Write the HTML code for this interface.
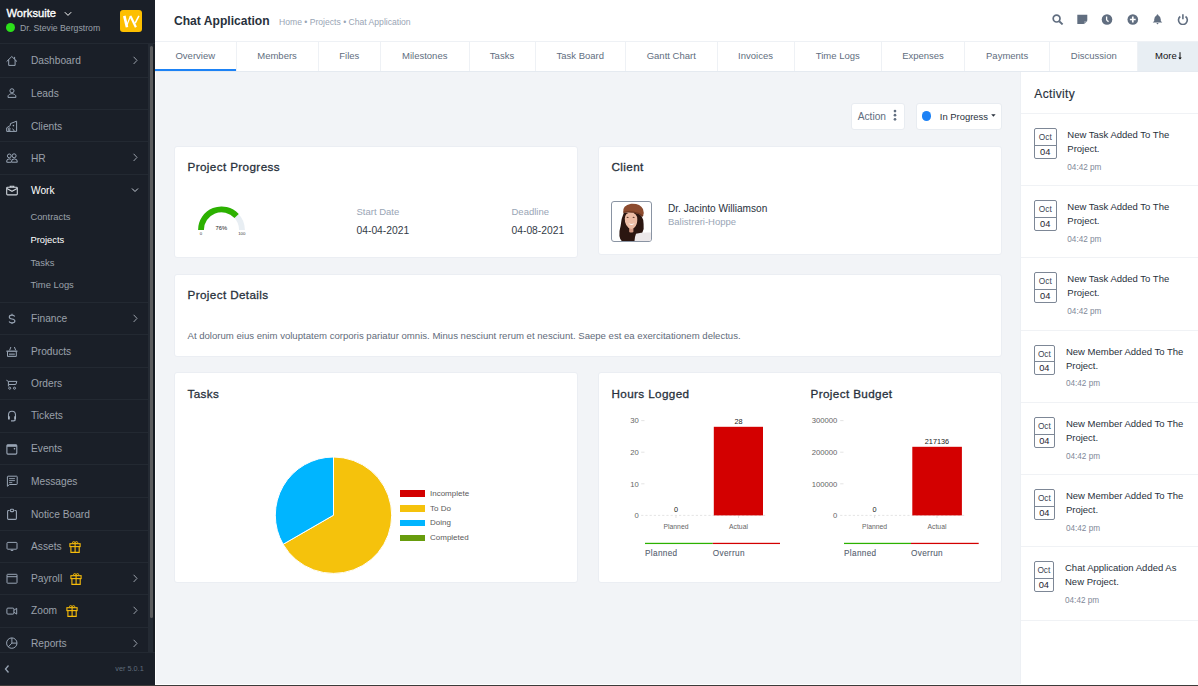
<!DOCTYPE html>
<html><head><meta charset="utf-8">
<style>
*{box-sizing:border-box;margin:0;padding:0}
html,body{width:1198px;height:686px;overflow:hidden;background:#f2f4f7;font-family:"Liberation Sans",sans-serif;position:relative}
#sb{position:absolute;left:0;top:0;width:155px;height:686px;background:#1a1f28}
#sb .hd{position:absolute;left:0;top:0;width:155px;height:44px;border-bottom:1px solid #232932}
.brand{position:absolute;left:6.5px;top:7.4px;font-size:11.2px;font-weight:normal;-webkit-text-stroke:0.35px #fff;color:#fff;white-space:nowrap}
.user{position:absolute;left:20px;top:23.3px;font-size:8.7px;color:#9aa1ab;white-space:nowrap}
.dot{position:absolute;left:6px;top:23px;width:9px;height:9px;border-radius:50%;background:#2ce01a}
.logo{position:absolute;left:120.2px;top:10.2px;width:21.6px;height:21.6px;border-radius:3px;background:#fdbf00}
.mi{position:absolute;left:0;width:147.5px;border-bottom:1px solid #232932;color:#9aa1ab;font-size:10.2px}
.mi .t{position:absolute;left:31px;top:16px;transform:translateY(-50%);white-space:nowrap}
.mi svg.ic{position:absolute;left:6px;top:10px;overflow:visible}
.mi .chev{position:absolute;left:131px;top:11.8px}
.sub{position:absolute;left:30.4px;font-size:9.4px;color:#9aa1ab;white-space:nowrap}
#track{position:absolute;left:147.5px;top:44px;width:7.5px;height:608px;background:#242a33;border-right:2px solid #171c23}
#scroll{position:absolute;left:150px;top:46px;width:3px;height:572px;background:#5b5c5e;border-radius:1.5px}
#foot{position:absolute;left:0;top:652px;width:155px;height:32px;background:#1a1f28;border-top:1px solid #232932}
#top{position:absolute;left:155px;top:0;width:1043px;height:41px;background:#fff}
.ttl{position:absolute;left:174px;top:14px;font-size:12.1px;font-weight:bold;color:#28313c;white-space:nowrap}
.bc{position:absolute;left:279px;top:17px;font-size:8.6px;color:#99a5b5;white-space:nowrap}
#tabs{position:absolute;left:155px;top:41px;width:1043px;height:31px;background:#fff;border-top:1px solid #eef1f5;border-bottom:1px solid #e5eaf0}
.tab{position:absolute;top:0;height:29px;line-height:28px;text-align:center;font-size:9.5px;color:#616e80;border-right:1px solid #eef1f5;white-space:nowrap}
.card{position:absolute;background:#fff;border-radius:3px;border:1px solid #ebeef3}
.ch{position:absolute;margin-top:1px;font-size:11.7px;letter-spacing:0.38px;font-weight:normal;-webkit-text-stroke:0.3px #28313c;color:#28313c;white-space:nowrap}
#act{position:absolute;left:1020px;top:72px;width:178px;height:612px;background:#fff;border-left:1px solid #edf0f4}
.ai{position:absolute;left:0;width:178px;height:72.5px;border-top:1px solid #f0f2f5}
.db{position:absolute;left:13px;top:14.3px;width:22.5px;height:30.5px;border:1px solid #7d8796;border-radius:2px;text-align:center;color:#28313c}
.db .m{height:16.5px;font-size:8.3px;line-height:17px;color:#3d4653;border-bottom:1px solid #7d8796}
.db .d{font-size:9.3px;line-height:13px;font-weight:normal;color:#1f2630}
.at{position:absolute;left:46.5px;top:14.3px;font-size:9.5px;color:#28313c;line-height:14px;width:130px}
.tm{position:absolute;left:46.5px;top:48.8px;font-size:8.2px;color:#7f8999}
.lbl{position:absolute;white-space:nowrap}
#bline{position:absolute;left:0;top:685px;width:1198px;height:1px;background:#3d3b3a}
#wl{position:absolute;left:155px;top:72px;width:1px;height:614px;background:#fff}
#wb{position:absolute;left:155px;top:684px;width:1043px;height:1px;background:#fff}
</style></head><body>

<div id="sb">
  <div class="hd"></div>
  <div class="brand">Worksuite</div>
  <svg style="position:absolute;left:64.3px;top:11.3px" width="8" height="6" viewBox="0 0 8 6"><path d="M0.8 1.2 L4 4.4 L7.2 1.2" stroke="#fff" fill="none" stroke-width="1"/></svg>
  <div class="dot"></div>
  <div class="user">Dr. Stevie Bergstrom</div>
  <div class="logo"><svg width="22" height="22" viewBox="0 0 22 22"><g stroke="#fff" fill="none" stroke-linecap="butt"><path d="M4.3 5.9 L7 17.3" stroke-width="2.6"/><path d="M6.6 15.8 L10.6 5.9" stroke-width="1.2"/><path d="M10.4 5.9 L15.9 17.3" stroke-width="2.2"/><path d="M15.2 13.2 L18.9 5.9" stroke-width="1.5"/></g></svg></div>
<div class="mi" style="top:44px;height:33.8px;color:#9aa1ab"><svg class="ic" width="12" height="12" viewBox="0 0 12 12"><path d="M0.6 7.6 L5.8 2.5 L11 7.6 M2.7 5.6 V11.4 H9.1 V5.6 M8.6 2.9 V5" stroke="#99a5b5" fill="none" stroke-width="1"/></svg><span class="t">Dashboard</span><svg class="chev" width="8" height="9" viewBox="0 0 8 9"><path d="M2.6 0.8 L6 4.4 L2.6 8" stroke="#9aa1ab" fill="none" stroke-width="1"/></svg></div>
<div class="mi" style="top:77.3px;height:32.7px;color:#9aa1ab"><svg class="ic" width="12" height="12" viewBox="0 0 12 12"><circle cx="5.95" cy="3.8" r="2.05" stroke="#99a5b5" fill="none" stroke-width="1"/><path d="M2 10.4 Q1.6 8.4 3.4 7.4 Q4.6 6.7 5.95 6.7 Q7.3 6.7 8.5 7.4 Q10.3 8.4 9.9 10.4 Z" stroke="#99a5b5" fill="none" stroke-width="1"/></svg><span class="t">Leads</span></div>
<div class="mi" style="top:109.5px;height:32.5px;color:#9aa1ab"><svg class="ic" width="12" height="12" viewBox="0 0 12 12"><path d="M0.7 11.4 V7.8 L4.4 5.4 V3.6 L10.6 1.2 V11.4 Z" stroke="#99a5b5" fill="none" stroke-width="1"/><circle cx="3.2" cy="8.9" r="1" stroke="#99a5b5" fill="none" stroke-width="1"/><path d="M1.7 11.2 Q3.2 9.9 4.7 11.2 M6.6 8.6 L8.4 11.2" stroke="#99a5b5" fill="none" stroke-width="1"/><circle cx="7.4" cy="5.6" r="0.8" fill="#99a5b5"/></svg><span class="t">Clients</span></div>
<div class="mi" style="top:141.5px;height:33.0px;color:#9aa1ab"><svg class="ic" width="12" height="12" viewBox="0 0 12 12"><g transform="translate(0,-0.8)"><circle cx="3.3" cy="4.7" r="1.9" stroke="#99a5b5" fill="none" stroke-width="1"/><circle cx="8.1" cy="4.6" r="2" stroke="#99a5b5" fill="none" stroke-width="1"/><path d="M5.2 11 Q3.2 11.3 0.7 11 Q0.2 7.9 3 7.7 Q4.3 7.7 5.1 8.4" stroke="#99a5b5" fill="none" stroke-width="1"/><path d="M5.5 11 Q5.1 7.7 8.4 7.7 Q11.7 7.7 11.3 11 Z" stroke="#99a5b5" fill="none" stroke-width="1"/></g></svg><span class="t">HR</span><svg class="chev" width="8" height="9" viewBox="0 0 8 9"><path d="M2.6 0.8 L6 4.4 L2.6 8" stroke="#9aa1ab" fill="none" stroke-width="1"/></svg></div>
<div class="mi" style="top:174px;height:128.5px;color:#fff"><svg class="ic" width="12" height="12" viewBox="0 0 12 12"><rect x="0.7" y="3.2" width="10.6" height="7.7" rx="0.9" stroke="#d0d5dc" fill="none" stroke-width="1.1"/><path d="M4.2 3.2 V2.2 H7.8 V3.2 M0.9 4.4 L6 7.3 L11.1 4.4" stroke="#d0d5dc" fill="none" stroke-width="1.1"/></svg><span class="t">Work</span><svg class="chev" width="8" height="8" viewBox="0 0 8 8"><path d="M1 2.5 L4 5.5 L7 2.5" stroke="#c8ced8" fill="none" stroke-width="1"/></svg></div>
<div class="mi" style="top:302px;height:33.0px;color:#9aa1ab"><svg class="ic" width="12" height="12" viewBox="0 0 12 12"><path d="M8.7 4.4 Q8.1 3.1 6 3.1 Q3.3 3.1 3.3 5 Q3.3 6.6 6 7 Q8.9 7.4 8.9 9.1 Q8.9 10.9 6 10.9 Q3.7 10.9 3.1 9.6 M6 1.8 V3.1 M6 10.9 V12.1" stroke="#99a5b5" fill="none" stroke-width="1.15"/></svg><span class="t">Finance</span><svg class="chev" width="8" height="9" viewBox="0 0 8 9"><path d="M2.6 0.8 L6 4.4 L2.6 8" stroke="#9aa1ab" fill="none" stroke-width="1"/></svg></div>
<div class="mi" style="top:334.5px;height:33.10000000000002px;color:#9aa1ab"><svg class="ic" width="12" height="12" viewBox="0 0 12 12"><path d="M0.4 6.2 H11.4" stroke="#99a5b5" stroke-width="1.3"/><path d="M1.5 6.6 V11.4 H10.3 V6.6 M3.6 5.3 L4.9 2 M8.4 2 L9.7 5.3" stroke="#99a5b5" fill="none" stroke-width="1"/><rect x="3" y="8.4" width="5.8" height="1.8" fill="#6f7a89"/></svg><span class="t">Products</span></div>
<div class="mi" style="top:367.1px;height:32.69999999999999px;color:#9aa1ab"><svg class="ic" width="12" height="12" viewBox="0 0 12 12"><path d="M0.4 3.2 L2.4 4.4 V9.4 M2.4 4.4 H10.9 L9.8 7.5 H2.6" stroke="#99a5b5" fill="none" stroke-width="1"/><circle cx="3.7" cy="11.2" r="1.05" stroke="#99a5b5" fill="none" stroke-width="1"/><circle cx="8.5" cy="11.2" r="1.05" stroke="#99a5b5" fill="none" stroke-width="1"/></svg><span class="t">Orders</span></div>
<div class="mi" style="top:399.3px;height:33.39999999999998px;color:#9aa1ab"><svg class="ic" width="12" height="12" viewBox="0 0 12 12"><path d="M2.5 8.5 V6 Q2.5 2.2 6 2.2 Q9.5 2.2 9.5 6 V8.5" stroke="#99a5b5" fill="none" stroke-width="1.1"/><rect x="2" y="7.2" width="1.8" height="3.4" rx="0.4" fill="#a9b4c2"/><rect x="8.2" y="7.2" width="1.8" height="3.4" rx="0.4" fill="#a9b4c2"/><path d="M9.3 10.4 Q9.2 11.7 7.6 11.8 H5" stroke="#99a5b5" fill="none" stroke-width="1.3"/></svg><span class="t">Tickets</span></div>
<div class="mi" style="top:432.2px;height:33.19999999999999px;color:#9aa1ab"><svg class="ic" width="12" height="12" viewBox="0 0 12 12"><rect x="0.9" y="2.7" width="9.9" height="9.4" rx="1" stroke="#99a5b5" fill="none" stroke-width="1.1"/><rect x="0.9" y="2.7" width="9.9" height="2.1" fill="#99a5b5"/><circle cx="8.5" cy="6.8" r="0.8" fill="#b0bac6"/></svg><span class="t">Events</span></div>
<div class="mi" style="top:464.9px;height:33.60000000000002px;color:#9aa1ab"><svg class="ic" width="12" height="12" viewBox="0 0 12 12"><path d="M1.4 1.8 Q1.4 1.2 2 1.2 H10.6 Q11.2 1.2 11.2 1.8 V8.9 Q11.2 9.5 10.6 9.5 H3.4 L1.4 11.3 Z" stroke="#99a5b5" fill="none" stroke-width="1"/><path d="M3.1 3.6 H8.9 M3.1 5.6 H8.9 M3.1 7.6 H6.3" stroke="#99a5b5" stroke-width="0.9"/></svg><span class="t">Messages</span></div>
<div class="mi" style="top:498px;height:32.89999999999998px;color:#9aa1ab"><svg class="ic" width="12" height="12" viewBox="0 0 12 12"><path d="M3.5 2.5 H2.5 Q1.6 2.5 1.6 3.4 V10.5 Q1.6 11.4 2.5 11.4 H9.5 Q10.4 11.4 10.4 10.5 V3.4 Q10.4 2.5 9.5 2.5 H8.5" stroke="#99a5b5" fill="none" stroke-width="1.1"/><rect x="4.3" y="1.2" width="3.4" height="2.4" rx="1" stroke="#99a5b5" fill="none" stroke-width="1.1"/></svg><span class="t">Notice Board</span></div>
<div class="mi" style="top:530.4px;height:32.39999999999998px;color:#9aa1ab"><svg class="ic" width="12" height="12" viewBox="0 0 12 12"><rect x="1" y="2.4" width="10" height="6.8" rx="0.8" stroke="#99a5b5" fill="none" stroke-width="1"/><path d="M4.2 11 H7.8 L6 9.5 Z" fill="#99a5b5"/></svg><span class="t">Assets</span><svg style="position:absolute;left:68.5px;top:11px" width="12" height="12" viewBox="0 0 12 12"><rect x="0.9" y="2.7" width="10.2" height="2.9" stroke="#f7bd0b" fill="none" stroke-width="1.1"/><path d="M1.9 5.6 V11.4 H10.2 V5.6 M6.1 2.7 V11.4" stroke="#f7bd0b" fill="none" stroke-width="1.1"/><ellipse cx="4.7" cy="1.5" rx="1.2" ry="0.9" stroke="#f7bd0b" fill="none" stroke-width="0.9"/><ellipse cx="7.5" cy="1.5" rx="1.2" ry="0.9" stroke="#f7bd0b" fill="none" stroke-width="0.9"/></svg></div>
<div class="mi" style="top:562.3px;height:32.5px;color:#9aa1ab"><svg class="ic" width="12" height="12" viewBox="0 0 12 12"><rect x="1" y="2.3" width="10" height="8.9" rx="0.6" stroke="#99a5b5" fill="none" stroke-width="1"/><path d="M1 4.7 H11" stroke="#99a5b5" fill="none" stroke-width="1"/></svg><span class="t">Payroll</span><svg class="chev" width="8" height="9" viewBox="0 0 8 9"><path d="M2.6 0.8 L6 4.4 L2.6 8" stroke="#9aa1ab" fill="none" stroke-width="1"/></svg><svg style="position:absolute;left:69.5px;top:11px" width="12" height="12" viewBox="0 0 12 12"><rect x="0.9" y="2.7" width="10.2" height="2.9" stroke="#f7bd0b" fill="none" stroke-width="1.1"/><path d="M1.9 5.6 V11.4 H10.2 V5.6 M6.1 2.7 V11.4" stroke="#f7bd0b" fill="none" stroke-width="1.1"/><ellipse cx="4.7" cy="1.5" rx="1.2" ry="0.9" stroke="#f7bd0b" fill="none" stroke-width="0.9"/><ellipse cx="7.5" cy="1.5" rx="1.2" ry="0.9" stroke="#f7bd0b" fill="none" stroke-width="0.9"/></svg></div>
<div class="mi" style="top:594.3px;height:33.60000000000002px;color:#9aa1ab"><svg class="ic" width="12" height="12" viewBox="0 0 12 12"><rect x="0.9" y="4.1" width="7" height="6" rx="1" stroke="#99a5b5" fill="none" stroke-width="1"/><path d="M7.9 6.3 L10.7 4.3 V10.1 L7.9 8.2" stroke="#99a5b5" fill="none" stroke-width="1"/></svg><span class="t">Zoom</span><svg class="chev" width="8" height="9" viewBox="0 0 8 9"><path d="M2.6 0.8 L6 4.4 L2.6 8" stroke="#9aa1ab" fill="none" stroke-width="1"/></svg><svg style="position:absolute;left:65.5px;top:11px" width="12" height="12" viewBox="0 0 12 12"><rect x="0.9" y="2.7" width="10.2" height="2.9" stroke="#f7bd0b" fill="none" stroke-width="1.1"/><path d="M1.9 5.6 V11.4 H10.2 V5.6 M6.1 2.7 V11.4" stroke="#f7bd0b" fill="none" stroke-width="1.1"/><ellipse cx="4.7" cy="1.5" rx="1.2" ry="0.9" stroke="#f7bd0b" fill="none" stroke-width="0.9"/><ellipse cx="7.5" cy="1.5" rx="1.2" ry="0.9" stroke="#f7bd0b" fill="none" stroke-width="0.9"/></svg></div>
<div class="mi" style="top:627.4px;height:32.89999999999998px;color:#9aa1ab"><svg class="ic" width="12" height="12" viewBox="0 0 12 12"><circle cx="5.8" cy="6.1" r="5.2" stroke="#99a5b5" fill="none" stroke-width="1"/><path d="M5.9 0.9 V6.1 H11 M5.9 6.1 L2.3 9.9" stroke="#99a5b5" fill="none" stroke-width="1"/></svg><span class="t">Reports</span><svg class="chev" width="8" height="9" viewBox="0 0 8 9"><path d="M2.6 0.8 L6 4.4 L2.6 8" stroke="#9aa1ab" fill="none" stroke-width="1"/></svg></div>
<div class="sub" style="top:211px;color:#9aa1ab">Contracts</div>
<div class="sub" style="top:234px;color:#fff">Projects</div>
<div class="sub" style="top:256.6px;color:#9aa1ab">Tasks</div>
<div class="sub" style="top:279.3px;color:#9aa1ab">Time Logs</div>

  <div id="track"></div>
  <div id="scroll"></div>
  <div id="foot">
    <svg style="position:absolute;left:3.2px;top:11px" width="8" height="10" viewBox="0 0 8 10"><path d="M5.5 1.5 L2.5 5 L5.5 8.5" stroke="#99a5b5" fill="none" stroke-width="1.3"/></svg>
    <div class="lbl" style="left:115.3px;top:11.2px;font-size:7.3px;color:#5f6b7a">ver 5.0.1</div>
  </div>
</div>

<div id="top"></div>
<div class="ttl">Chat Application</div>
<div class="bc">Home • Projects • Chat Application</div>
<!-- header icons -->
<svg style="position:absolute;left:1051.6px;top:13.8px" width="12" height="11" viewBox="0 0 12 11"><circle cx="4.6" cy="4.6" r="3.4" stroke="#616e80" stroke-width="1.7" fill="none"/><path d="M7.2 7.2 L10.6 10.4" stroke="#616e80" stroke-width="1.9"/></svg>
<svg style="position:absolute;left:1077px;top:14px" width="11" height="11" viewBox="0 0 11 11"><path d="M0.3 0.7 H10.3 V6.4 L6.6 10.1 H0.3 Z" fill="#616e80"/><path d="M7.2 10.2 V7.1 H10.3 Z" fill="#8d97a4"/></svg>
<svg style="position:absolute;left:1101px;top:14px" width="12" height="11" viewBox="0 0 12 11"><circle cx="6" cy="5.5" r="5.3" fill="#616e80"/><path d="M5.6 2.4 V5.6 Q5.8 6.6 7.6 7.6" stroke="#fff" stroke-width="1.3" fill="none"/></svg>
<svg style="position:absolute;left:1127px;top:14px" width="12" height="11" viewBox="0 0 12 11"><circle cx="5.8" cy="5.5" r="5.3" fill="#616e80"/><path d="M5.8 2.6 V8.4 M2.9 5.5 H8.7" stroke="#fff" stroke-width="1.7"/></svg>
<svg style="position:absolute;left:1152px;top:14px" width="11" height="11" viewBox="0 0 11 11"><path d="M5.5 0.2 Q6.3 0.6 6.5 1.5 Q8.6 2.4 8.8 5.5 V7 L10.3 8.6 H0.7 L2.2 7 V5.5 Q2.4 2.4 4.5 1.5 Q4.7 0.6 5.5 0.2 Z M4.3 9 L5.5 10.5 L6.7 9 Z" fill="#616e80"/></svg>
<svg style="position:absolute;left:1177px;top:13.6px" width="12" height="11" viewBox="0 0 12 11"><path d="M3.3 2.5 A4.4 4.4 0 1 0 8.5 2.5" stroke="#616e80" stroke-width="1.6" fill="none"/><path d="M5.9 0.3 V5.3" stroke="#616e80" stroke-width="1.6"/></svg>

<div id="tabs">
<div class="tab" style="left:0px;width:81.5px">Overview</div>
<div class="tab" style="left:81.5px;width:82.10000000000002px">Members</div>
<div class="tab" style="left:163.60000000000002px;width:62.39999999999998px">Files</div>
<div class="tab" style="left:226px;width:88.5px">Milestones</div>
<div class="tab" style="left:314.5px;width:66.0px">Tasks</div>
<div class="tab" style="left:380.5px;width:90.5px">Task Board</div>
<div class="tab" style="left:471px;width:91.5px">Gantt Chart</div>
<div class="tab" style="left:562.5px;width:77.0px">Invoices</div>
<div class="tab" style="left:639.5px;width:87.5px">Time Logs</div>
<div class="tab" style="left:727px;width:83px">Expenses</div>
<div class="tab" style="left:810px;width:85.29999999999995px">Payments</div>
<div class="tab" style="left:895.3px;width:88.0px">Discussion</div>
<div class="tab" style="left:983.3px;width:59.700000000000045px;background:#e8eef3;color:#1d222b;border-right:none"><span style="margin-left:-4.5px;color:#111">More</span><svg style="position:absolute;left:38.6px;top:10.2px" width="6" height="9" viewBox="0 0 6 9"><path d="M3 0.2 V7" stroke="#111" stroke-width="1" fill="none"/><path d="M1.2 5.6 L3 7.6 L4.8 5.6 Z" fill="#111"/></svg></div>
<div style="position:absolute;left:0;top:27px;width:81px;height:2px;background:#1d82f5"></div>
</div>

<!-- Action buttons -->
<div class="card" style="left:851px;top:103.4px;width:54px;height:27px;border:1px solid #e8ecf1;border-radius:3px"></div>
<div class="lbl" style="left:857.7px;top:110.5px;font-size:10.2px;color:#616e80">Action</div>
<svg style="position:absolute;left:892.6px;top:109.4px" width="4" height="13" viewBox="0 0 4 13"><circle cx="2" cy="2.1" r="1.35" fill="#616e80"/><circle cx="2" cy="6.2" r="1.35" fill="#616e80"/><circle cx="2" cy="10.3" r="1.35" fill="#616e80"/></svg>
<div class="card" style="left:916px;top:103.4px;width:85.5px;height:27px;border:1px solid #e8ecf1;border-radius:3px"></div>
<div style="position:absolute;left:922.1px;top:111.2px;width:9.4px;height:9.4px;border-radius:50%;background:#1d82f5"></div>
<div class="lbl" style="left:939.8px;top:111px;font-size:9.45px;color:#28313c">In Progress</div>
<svg style="position:absolute;left:991px;top:114.2px" width="5" height="3" viewBox="0 0 5 3"><path d="M0.2 0.3 H4.6 L2.4 2.7 Z" fill="#28313c"/></svg>

<!-- Project Progress -->
<div class="card" style="left:174px;top:145.8px;width:404.3px;height:112.6px"></div>
<div class="ch" style="left:187.5px;top:159px">Project Progress</div>
<svg style="position:absolute;left:188.7px;top:199.6px" width="65" height="40" viewBox="0 0 65 40">
  <path d="M12 30 A20.5 20.5 0 0 1 53 30" stroke="#e8eef3" stroke-width="5.8" fill="none"/>
  <path d="M12 30 A20.5 20.5 0 0 1 47.6 16" stroke="#2cb100" stroke-width="5.8" fill="none"/>
  <text x="32.3" y="30" font-size="5.8" fill="#222" text-anchor="middle" font-family="Liberation Sans">76%</text>
  <text x="12" y="35" font-size="4.3" fill="#333" text-anchor="middle" font-family="Liberation Sans">0</text>
  <text x="52.8" y="35" font-size="4.3" fill="#333" text-anchor="middle" font-family="Liberation Sans">100</text>
</svg>
<div class="lbl" style="left:356.5px;top:206px;font-size:9.5px;color:#99a5b5">Start Date</div>
<div class="lbl" style="left:356.5px;top:225.2px;font-size:10.3px;color:#333b46">04-04-2021</div>
<div class="lbl" style="left:511.5px;top:206px;font-size:9.5px;color:#99a5b5">Deadline</div>
<div class="lbl" style="left:511.5px;top:225.2px;font-size:10.3px;color:#333b46">04-08-2021</div>

<!-- Client -->
<div class="card" style="left:598px;top:145.8px;width:404.3px;height:109.7px"></div>
<div class="ch" style="left:611.5px;top:159px">Client</div>
<div style="position:absolute;left:611px;top:201px;width:41px;height:40.5px;border:1px solid #8a94a3;border-radius:3px;background:#fff;overflow:hidden">
  <svg width="39" height="38.5" viewBox="0 0 39 38.5" style="position:absolute;left:0;top:0">
    <path d="M11.7 11 Q9 17 8.6 24 Q7 29 7.4 34 Q8 37.5 9.7 39 H25 Q29 36 30 31.5 Q32.5 27 31.6 22 Q31.5 17 29.5 14 Q27 11 24 11 Z" fill="#2b1611"/>
    <path d="M24 31.8 Q30 30 39 30.5 V39 H22.5 Q23 34 24 31.8 Z" fill="#ece8ea"/>
    <path d="M17.2 24 H21.4 V30 Q19.3 31.2 17.2 30 Z" fill="#d49a84"/>
    <path d="M19 10.5 Q25.2 10.8 25.3 17.5 Q25.3 23 22.5 25.5 Q20.5 27.2 18.8 26.8 Q16 26.2 14.2 23 Q12.6 20 12.8 16.5 Q13 10.5 19 10.5 Z" fill="#edbda6"/>
    <path d="M16.3 21.2 Q19.5 24.8 22.8 21.2 Q19.5 22.6 16.3 21.2 Z" fill="#fff"/>
    <ellipse cx="15.6" cy="15.4" rx="1" ry="0.55" fill="#6a4538"/>
    <ellipse cx="21.6" cy="15.4" rx="1" ry="0.55" fill="#6a4538"/>
    <path d="M11.2 10.5 Q10.2 3.5 19 1.8 Q28 1.2 31 7 Q32.5 11 31 14.3 Q27 11.2 21 10.5 Q15 10 11.2 10.5 Z" fill="#8c4b2f"/>
    <path d="M11.4 10.4 Q16 9.4 21.5 10.2 Q27.5 11.2 31 14.2" stroke="#6a3520" stroke-width="1.2" fill="none"/>
  </svg>
</div>
<div class="lbl" style="left:668px;top:203px;font-size:10.1px;color:#28313c">Dr. Jacinto Williamson</div>
<div class="lbl" style="left:668px;top:216px;font-size:9.5px;color:#99a5b5">Balistreri-Hoppe</div>

<!-- Project Details -->
<div class="card" style="left:174px;top:274.2px;width:828.3px;height:83.3px"></div>
<div class="ch" style="left:187.5px;top:287.3px">Project Details</div>
<div class="lbl" style="left:187.5px;top:330.2px;font-size:9.58px;color:#5f6b7a">At dolorum eius enim voluptatem corporis pariatur omnis. Minus nesciunt rerum et nesciunt. Saepe est ea exercitationem delectus.</div>

<!-- Tasks -->
<div class="card" style="left:174px;top:372.4px;width:404.3px;height:210.9px"></div>
<div class="ch" style="left:187.5px;top:386px">Tasks</div>
<svg style="position:absolute;left:270px;top:452px" width="130" height="128" viewBox="0 0 130 128">
  <path d="M63.5 63.2 L63.5 5.00 A58.2 58.2 0 1 1 13.10 92.30 Z" fill="#f5c20c" stroke="#fff" stroke-width="1"/>
  <path d="M63.5 63.2 L13.10 92.30 A58.2 58.2 0 0 1 63.5 5.00 Z" fill="#00b5ff" stroke="#fff" stroke-width="1"/>
</svg>
<div style="position:absolute;left:399.5px;top:490px;width:25.5px;height:6.5px;background:#d30000"></div>
<div style="position:absolute;left:399.5px;top:505px;width:25.5px;height:6.5px;background:#f5c20c"></div>
<div style="position:absolute;left:399.5px;top:519.8px;width:25.5px;height:6.5px;background:#00b5ff"></div>
<div style="position:absolute;left:399.5px;top:534.6px;width:25.5px;height:6.5px;background:#679c0d"></div>
<div class="lbl" style="left:430px;top:488.5px;font-size:8px;color:#5a5a5a">Incomplete</div>
<div class="lbl" style="left:430px;top:503.5px;font-size:8px;color:#5a5a5a">To Do</div>
<div class="lbl" style="left:430px;top:518px;font-size:8px;color:#5a5a5a">Doing</div>
<div class="lbl" style="left:430px;top:533px;font-size:8px;color:#5a5a5a">Completed</div>

<!-- Hours/Budget -->
<div class="card" style="left:598px;top:372.4px;width:404.3px;height:210.9px"></div>
<div class="ch" style="left:611.5px;top:386px">Hours Logged</div>
<div class="ch" style="left:810.5px;top:386px">Project Budget</div>
<svg style="position:absolute;left:598px;top:373px" width="404" height="209" viewBox="0 0 404 209">
  <g font-family="Liberation Sans" font-size="7.7" fill="#666">
    <text x="40.8" y="50.3" text-anchor="end">30</text>
    <text x="40.8" y="81.9" text-anchor="end">20</text>
    <text x="40.8" y="113.5" text-anchor="end">10</text>
    <text x="40.8" y="145.1" text-anchor="end">0</text>
    <path d="M43.2 47.6 H46.5 M43.2 79.2 H46.5 M43.2 110.8 H46.5" stroke="#d8d8d8" stroke-width="0.7"/>
    <path d="M43.2 142.4 H168" stroke="#d8d8d8" stroke-width="0.7" stroke-dasharray="2.2,2"/>
    <path d="M78 142.4 V145 M140.5 142.4 V145" stroke="#d8d8d8" stroke-width="0.7"/>
    <text x="239.3" y="50.3" text-anchor="end">300000</text>
    <text x="239.3" y="81.9" text-anchor="end">200000</text>
    <text x="239.3" y="113.5" text-anchor="end">100000</text>
    <text x="239.3" y="145.1" text-anchor="end">0</text>
    <path d="M242.2 47.6 H245.5 M242.2 79.2 H245.5 M242.2 110.8 H245.5" stroke="#d8d8d8" stroke-width="0.7"/>
    <path d="M242.2 142.4 H367" stroke="#d8d8d8" stroke-width="0.7" stroke-dasharray="2.2,2"/>
    <path d="M276.6 142.4 V145 M339 142.4 V145" stroke="#d8d8d8" stroke-width="0.7"/>
  </g>
  <rect x="115.8" y="53.8" width="49.2" height="88.6" fill="#d30000"/>
  <rect x="314.3" y="73.8" width="49.6" height="68.6" fill="#d30000"/>
  <g font-family="Liberation Sans" font-size="7.3" fill="#222" text-anchor="middle">
    <text x="140.5" y="51.3">28</text>
    <text x="78" y="139.3">0</text>
    <text x="339" y="71.3">217136</text>
    <text x="276.6" y="139.3">0</text>
  </g>
  <g font-family="Liberation Sans" font-size="6.8" fill="#666" text-anchor="middle">
    <text x="78" y="155.8">Planned</text>
    <text x="140.5" y="155.8">Actual</text>
    <text x="276.6" y="155.8">Planned</text>
    <text x="339" y="155.8">Actual</text>
  </g>
  <rect x="47" y="169.8" width="67.8" height="1.25" fill="#2cb100"/>
  <rect x="114.8" y="169.8" width="67.2" height="1.25" fill="#d30000"/>
  <rect x="246" y="169.8" width="67" height="1.25" fill="#2cb100"/>
  <rect x="313" y="169.8" width="67.7" height="1.25" fill="#d30000"/>
  <g font-family="Liberation Sans" font-size="8.2" letter-spacing="0.35" fill="#56616f" stroke="#56616f" stroke-width="0.1">
    <text x="47" y="183">Planned</text>
    <text x="114.8" y="183">Overrun</text>
    <text x="246" y="183">Planned</text>
    <text x="313" y="183">Overrun</text>
  </g>
</svg>

<div id="act">
  <div class="ch" style="left:13.3px;top:14.2px;font-size:12px;letter-spacing:0.35px;-webkit-text-stroke:0.15px #28313c">Activity</div>
<div class="ai" style="top:41.0px"><div class="db" style="width:22.5px"><div class="m">Oct</div><div class="d">04</div></div><div class="at" style="left:46.299999999999955px">New Task Added To The Project.</div><div class="tm" style="left:46.299999999999955px">04:42 pm</div></div>
<div class="ai" style="top:113.1px"><div class="db" style="width:22.5px"><div class="m">Oct</div><div class="d">04</div></div><div class="at" style="left:46.299999999999955px">New Task Added To The Project.</div><div class="tm" style="left:46.299999999999955px">04:42 pm</div></div>
<div class="ai" style="top:185.2px"><div class="db" style="width:22.5px"><div class="m">Oct</div><div class="d">04</div></div><div class="at" style="left:46.299999999999955px">New Task Added To The Project.</div><div class="tm" style="left:46.299999999999955px">04:42 pm</div></div>
<div class="ai" style="top:257.5px"><div class="db" style="width:20.7px"><div class="m">Oct</div><div class="d">04</div></div><div class="at" style="left:44.90000000000009px">New Member Added To The Project.</div><div class="tm" style="left:44.90000000000009px">04:42 pm</div></div>
<div class="ai" style="top:329.8px"><div class="db" style="width:20.7px"><div class="m">Oct</div><div class="d">04</div></div><div class="at" style="left:44.90000000000009px">New Member Added To The Project.</div><div class="tm" style="left:44.90000000000009px">04:42 pm</div></div>
<div class="ai" style="top:402.0px"><div class="db" style="width:20.7px"><div class="m">Oct</div><div class="d">04</div></div><div class="at" style="left:44.90000000000009px">New Member Added To The Project.</div><div class="tm" style="left:44.90000000000009px">04:42 pm</div></div>
<div class="ai" style="top:474.20000000000005px"><div class="db" style="width:19.7px"><div class="m">Oct</div><div class="d">04</div></div><div class="at" style="left:44px">Chat Application Added As New Project.</div><div class="tm" style="left:44px">04:42 pm</div></div>
<div class="ai" style="top:547.5px;height:1px"></div>
</div>

<div id="wl"></div><div id="wb"></div><div id="bline"></div>
</body></html>
